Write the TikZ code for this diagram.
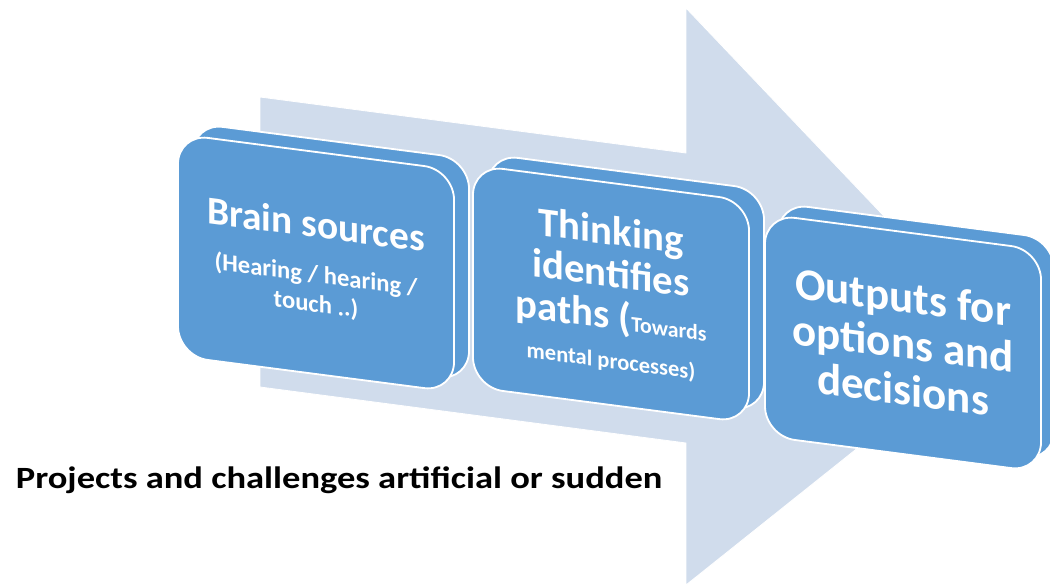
\documentclass[tikz,border=0pt]{standalone}
\usepackage{fontspec}
\setmainfont{Carlito}
\usetikzlibrary{shapes}
\definecolor{cardblue}{RGB}{91,155,213}
\definecolor{shaftgrey}{RGB}{208,220,236}

\begin{document}
\begin{tikzpicture}[x=0.025cm,y=-0.025cm,
  card/.style={shape=rectangle,rounded corners=0.75cm,fill=cardblue,draw=white,line width=1.3pt,minimum width=6.9cm,minimum height=5.55cm,yslant=-0.13,transform shape,align=center,text=white}]
\useasboundingbox (0,0) rectangle (1050,586);

% big arrow behind the cards
\path [fill=shaftgrey,draw=white,line width=0.6pt] (260,97) -- (686,153) -- (686,8) -- (998,336) -- (686,585) -- (686,443) -- (260,387) -- cycle;

\node[card] (brainback) at (331,252) {};
\node[card,font=\bfseries\fontsize{28}{19}\selectfont] (brain) at (316,263) {Brain sources\\[13pt]{\fontsize{17.5}{19}\selectfont (Hearing / hearing /}\\[2pt]{\fontsize{17.5}{19}\selectfont touch ..)}};

\node[card] (thinkback) at (626,283) {};
\node[card,font=\bfseries\fontsize{29}{30}\selectfont] (think) at (611,294) {Thinking\\identifies\\paths ({\fontsize{15.5}{16}\selectfont Towards}\\[-2pt]{\fontsize{16}{18}\selectfont mental processes)}};

\node[card] (outback) at (916,332) {};
\node[card,font=\bfseries\fontsize{32}{33}\selectfont] (out) at (903,343) {Outputs for\\options and\\decisions};

\node[anchor=base west,font=\bfseries\fontsize{22}{26}\selectfont,xscale=1.18,transform shape] (caption) at (10,488) {Projects and challenges artificial or sudden};
\end{tikzpicture}
\end{document}
